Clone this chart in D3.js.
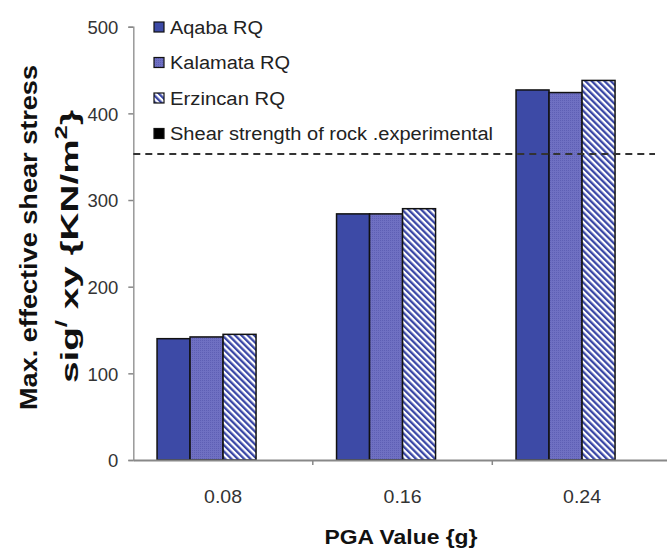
<!DOCTYPE html>
<html><head><meta charset="utf-8">
<script src="https://cdn.jsdelivr.net/npm/d3@7"></script>
<style>body{margin:0;background:#fff}svg{display:block;font-family:"Liberation Sans",Arial,sans-serif}</style>
</head><body><svg id="c" width="667" height="554"></svg>
<script>
const categories = ["0.08", "0.16", "0.24"];
const seriesNames = ["Aqaba RQ", "Kalamata RQ", "Erzincan RQ", "Shear strength of rock .experimental"];
const aqaba = [140, 284, 427];
const kalamata = [142, 284, 424];
const erzincan = [145, 290, 438];
const shearStrength = 353;
const yTicks = [0, 100, 200, 300, 400, 500];

const svg = d3.select("#c");
const defs = svg.append("defs");
const hatch = defs.append("pattern").attr("id","hatch").attr("patternUnits","userSpaceOnUse")
  .attr("width",4.5).attr("height",4.5).attr("patternTransform","rotate(-45)");
hatch.append("rect").attr("width",4.5).attr("height",4.5).attr("fill","#ffffff");
hatch.append("rect").attr("width",2.3).attr("height",4.5).attr("fill","#3a47a6");
const dots = defs.append("pattern").attr("id","dots").attr("patternUnits","userSpaceOnUse")
  .attr("width",2).attr("height",2);
dots.append("rect").attr("width",2).attr("height",2).attr("fill","#6f70c2");
dots.append("rect").attr("width",1).attr("height",1).attr("fill","#5e5fb4");

const fills = ["#3d4aa6", "url(#dots)", "url(#hatch)", "#000"];
const seriesVals = [aqaba, kalamata, erzincan];

const y = d3.scaleLinear().domain([0, 500]).range([460, 26.7]);
const x0 = d3.scaleBand().domain(categories).range([133.3, 671.8]);
const x1 = d3.scaleBand().domain(d3.range(4)).range([23.75, 155.75]);

// y axis
const gy = svg.append("g").attr("transform","translate(133.3,0)")
  .call(d3.axisLeft(y).tickValues(yTicks).tickSize(5).tickPadding(10));
gy.select(".domain").attr("stroke","#999").attr("stroke-width",1.5);
gy.selectAll(".tick line").attr("stroke","#888").attr("stroke-width",1.5);
gy.selectAll(".tick text").attr("font-size",18.5).attr("fill","#333").attr("dy","0.36em")
  .attr("font-family","Liberation Sans, Arial, sans-serif");

// bars
categories.forEach((c, i) => {
  seriesVals.forEach((vals, s) => {
    svg.append("rect")
      .attr("x", x0(c) + x1(s))
      .attr("y", y(vals[i]))
      .attr("width", x1.bandwidth())
      .attr("height", y(0) - y(vals[i]))
      .attr("fill", fills[s])
      .attr("stroke", "#111").attr("stroke-width", 1.5);
  });
});

// x axis
const gx = svg.append("g").attr("transform","translate(0,460)")
  .call(d3.axisBottom(x0).tickSize(0).tickPadding(0));
gx.select(".domain").attr("stroke","#888").attr("stroke-width",2);
gx.selectAll(".tick text").attr("font-size",19).attr("fill","#333").attr("dy",0).attr("y",43)
  .attr("textLength",38).attr("lengthAdjust","spacingAndGlyphs")
  .attr("font-family","Liberation Sans, Arial, sans-serif");
gx.selectAll(".sep").data(categories.slice(1)).enter().append("line")
  .attr("x1", d => x0(d)).attr("x2", d => x0(d)).attr("y1",0).attr("y2",5)
  .attr("stroke","#888").attr("stroke-width",1.5);

// dashed shear strength line
svg.append("line").attr("x1",133.3).attr("x2",655)
  .attr("y1",y(shearStrength)).attr("y2",y(shearStrength))
  .attr("stroke","#333").attr("stroke-width",2).attr("stroke-dasharray","7,5");

// legend
const legendWidths = [93, 120, 115, 323];
const leg = svg.append("g");
seriesNames.forEach((n, s) => {
  const cy = 27 + s*35.5;
  leg.append("rect").attr("x",154).attr("y",cy-5).attr("width",10).attr("height",10)
    .attr("fill",fills[s]).attr("stroke","#111").attr("stroke-width",1.2);
  leg.append("text").attr("x",170).attr("y",cy+6.5).attr("font-size",18).attr("fill","#222")
    .attr("textLength", legendWidths[s]).attr("lengthAdjust","spacingAndGlyphs")
    .text(n);
});

// axis titles
svg.append("text").attr("transform","translate(37,237.5) rotate(-90)")
  .attr("text-anchor","middle").attr("font-size",24).attr("font-weight","bold").attr("fill","#111")
  .attr("textLength",345).attr("lengthAdjust","spacingAndGlyphs")
  .text("Max. effective  shear stress");
const yt2 = svg.append("text").attr("transform","translate(78,383) rotate(-90)")
  .attr("text-anchor","start").attr("font-size",24).attr("font-weight","bold").attr("fill","#111")
  .attr("textLength",273).attr("lengthAdjust","spacingAndGlyphs");
yt2.append("tspan").text("sig");
yt2.append("tspan").attr("dy",-11).attr("font-size",16).text("/");
yt2.append("tspan").attr("dy",11).text(" xy {KN/m");
yt2.append("tspan").attr("dy",-11).attr("font-size",16).text("2");
yt2.append("tspan").attr("dy",11).text("}");

svg.append("text").attr("x",401).attr("y",544).attr("text-anchor","middle")
  .attr("font-size",21).attr("font-weight","bold").attr("fill","#111")
  .attr("textLength",153).attr("lengthAdjust","spacingAndGlyphs").text("PGA Value {g}");
</script></body></html>
